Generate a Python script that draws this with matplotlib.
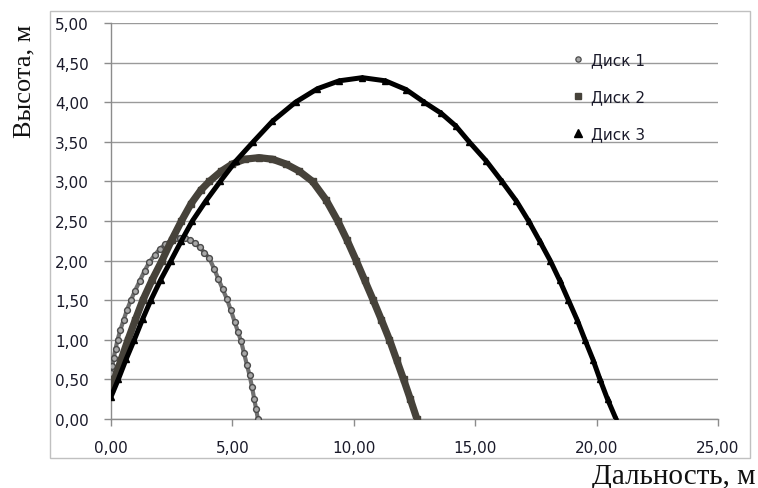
import matplotlib
matplotlib.use('Agg')
import matplotlib.pyplot as plt
from matplotlib.lines import Line2D
from matplotlib.patches import Rectangle

# trajectories: range (m) vs height (m)
disk1_x = [0.00, 0.05, 0.11, 0.19, 0.27, 0.38, 0.52, 0.66, 0.82, 0.99, 1.18, 1.38,
           1.58, 1.80, 2.02, 2.24, 2.46, 2.66, 2.85, 3.05, 3.25, 3.45, 3.65, 3.85,
           4.05, 4.24, 4.42, 4.60, 4.78, 4.94, 5.09, 5.23, 5.36, 5.48, 5.60, 5.71,
           5.81, 5.90, 5.98, 6.05]
disk1_y = [0.58, 0.67, 0.77, 0.89, 1.00, 1.12, 1.25, 1.38, 1.50, 1.62, 1.74, 1.87,
           1.98, 2.07, 2.15, 2.21, 2.25, 2.28, 2.29, 2.28, 2.26, 2.22, 2.17, 2.10,
           2.03, 1.90, 1.77, 1.64, 1.51, 1.37, 1.23, 1.10, 0.98, 0.83, 0.68, 0.55,
           0.40, 0.25, 0.12, 0.00]

disk2_x = [0.00, 0.14, 0.42, 0.70, 1.00, 1.31, 1.70, 2.10, 2.50, 2.90, 3.30, 3.70,
           4.05, 4.55, 5.00, 5.50, 6.10, 6.65, 7.20, 7.75, 8.30, 8.85, 9.34, 9.72,
           10.10, 10.45, 10.80, 11.14, 11.47, 11.76, 12.05, 12.33, 12.60]
disk2_y = [0.38, 0.50, 0.75, 1.00, 1.25, 1.50, 1.76, 2.00, 2.26, 2.50, 2.72, 2.89,
           3.00, 3.13, 3.22, 3.28, 3.30, 3.28, 3.22, 3.13, 3.00, 2.77, 2.50, 2.26,
           2.00, 1.75, 1.50, 1.25, 1.00, 0.75, 0.50, 0.25, 0.00]

disk3_x = [0.00, 0.30, 0.63, 0.96, 1.30, 1.64, 2.05, 2.47, 2.90, 3.35, 3.90, 4.50,
           5.15, 5.86, 6.65, 7.60, 8.50, 9.40, 10.35, 11.30, 12.15, 12.90, 13.60,
           14.20, 14.75, 15.45, 16.10, 16.70, 17.20, 17.65, 18.09, 18.48, 18.84,
           19.20, 19.52, 19.85, 20.14, 20.45, 20.80]
disk3_y = [0.28, 0.50, 0.76, 1.00, 1.26, 1.50, 1.76, 2.00, 2.25, 2.50, 2.75, 3.00,
           3.26, 3.50, 3.76, 4.00, 4.17, 4.27, 4.31, 4.27, 4.16, 4.00, 3.86,
           3.70, 3.50, 3.26, 3.00, 2.75, 2.50, 2.25, 2.00, 1.75, 1.50,
           1.25, 1.00, 0.75, 0.50, 0.25, 0.00]

labels = ['Диск 1', 'Диск 2', 'Диск 3']
xticks = [0, 5, 10, 15, 20, 25]
yticks = [0, 0.5, 1, 1.5, 2, 2.5, 3, 3.5, 4, 4.5, 5]

W, H = 758, 489
fig = plt.figure(figsize=(W / 100, H / 100), dpi=100)
ax = fig.add_axes([111 / W, 1 - 420 / H, (718 - 111) / W, (420 - 24) / H])

# outer chart frame
fig.patches.append(Rectangle((50 / W, 1 - 459 / H), 700 / W, 447 / H,
                             transform=fig.transFigure, fill=False,
                             edgecolor='#c0c0c0', linewidth=1.0))

ax.plot(disk1_x, disk1_y, color='#707070', lw=3.0, zorder=3,
        marker='o', ms=4.2, mec='#4a4a4a', mfc='#a8a8a8', mew=1.0)
ax.plot(disk2_x, disk2_y, color='#46423a', lw=5.2, zorder=4,
        marker='s', ms=4.6, mec='#46423a', mfc='#46423a')
ax.plot(disk3_x, disk3_y, color='black', lw=3.6, zorder=5,
        marker='^', ms=4.6, mec='black', mfc='black')

ax.set_xlim(0, 25)
ax.set_ylim(0, 5)
ax.set_xticks(xticks)
ax.set_yticks(yticks)
ax.set_xticklabels([f'{v:.2f}'.replace('.', ',') for v in xticks])
ax.set_yticklabels([f'{v:.2f}'.replace('.', ',') for v in yticks])
ax.tick_params(axis='both', direction='out', length=5, width=1, color='#8c8c8c',
               labelsize=11, labelcolor='#1a1a2a')
ax.tick_params(axis='x', pad=10)
ax.tick_params(axis='y', pad=11)

ax.grid(axis='y', color='#9a9a9a', lw=1.0)
ax.set_axisbelow(True)
for s in ['top', 'right']:
    ax.spines[s].set_visible(False)
for s in ['left', 'bottom']:
    ax.spines[s].set_color('#8c8c8c')
    ax.spines[s].set_linewidth(1.0)

fig.text(24 / W, 1 - 81 / H, 'Высота, м', rotation=90, ha='center', va='center',
         family='Liberation Serif', fontsize=19, color='#111111')
fig.text(755 / W, 1 - 477 / H, 'Дальность, м', ha='right', va='center',
         family='Liberation Serif', fontsize=21, color='#111111')

handles = [
    Line2D([], [], ls='none', marker='o', ms=3.8, mec='#4a4a4a', mfc='#a8a8a8', mew=0.9),
    Line2D([], [], ls='none', marker='s', ms=4.6, mec='#46423a', mfc='#46423a'),
    Line2D([], [], ls='none', marker='^', ms=6, mec='black', mfc='black'),
]
leg = ax.legend(handles, labels, loc='upper left', frameon=False,
                bbox_to_anchor=(570 / W, 1 - 53 / H), bbox_transform=fig.transFigure,
                fontsize=11, labelspacing=1.45, handlelength=1.0, handletextpad=0.4,
                borderpad=0, borderaxespad=0, numpoints=1)
for t in leg.get_texts():
    t.set_color('#1a1a2a')

fig.savefig('out.png', dpi=100)
